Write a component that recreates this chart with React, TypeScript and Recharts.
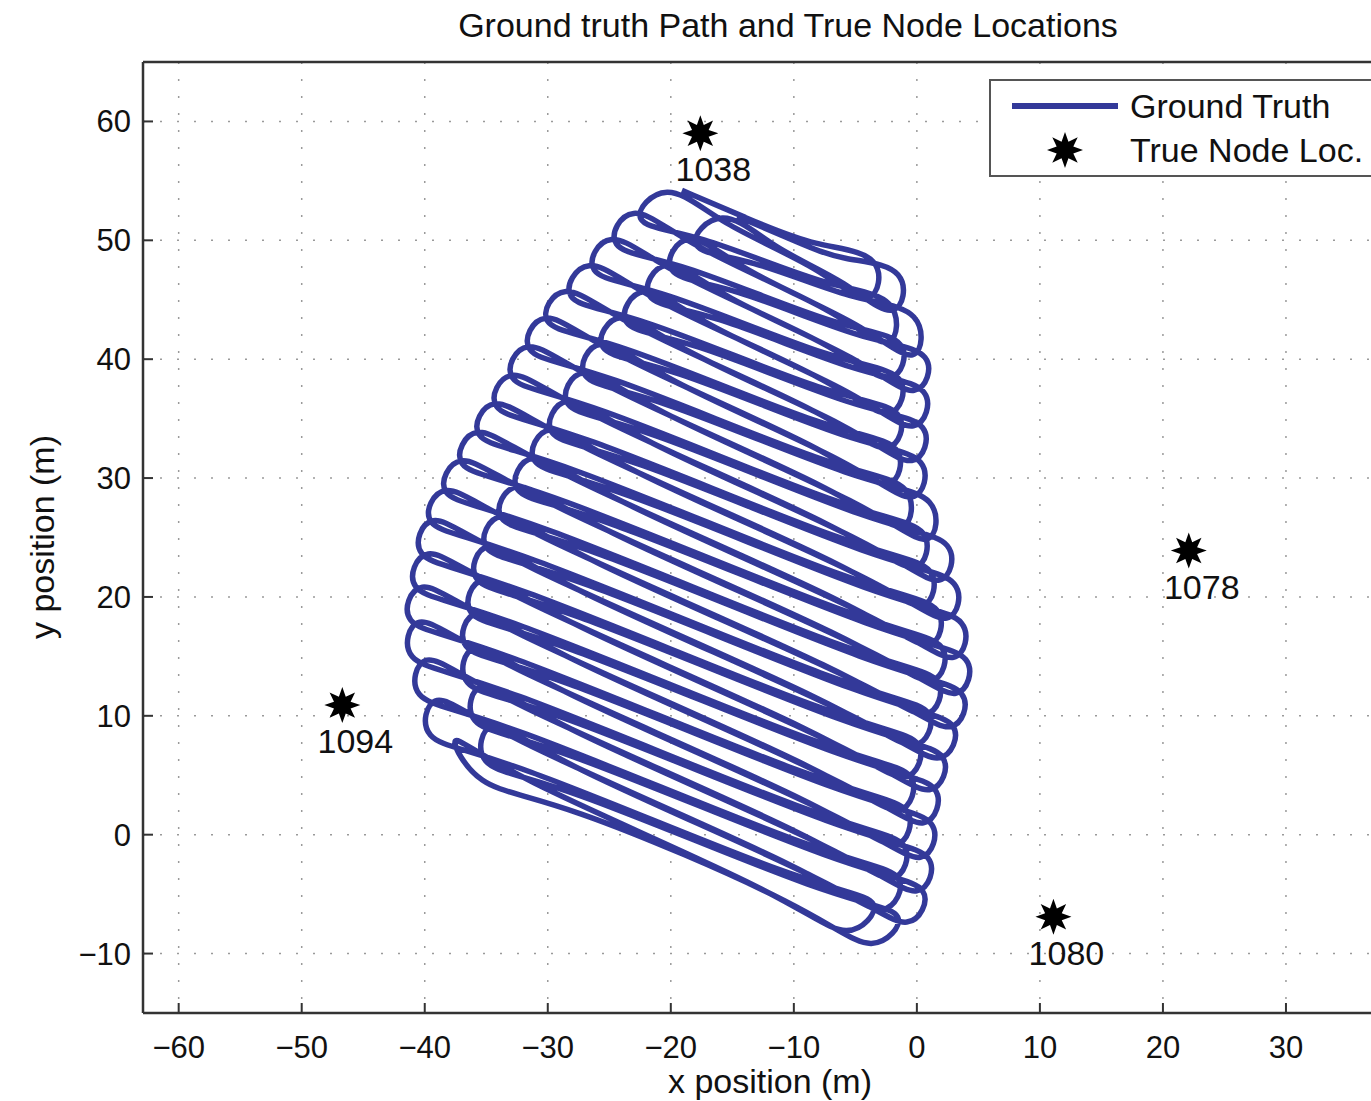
import { ComposedChart, Line, Scatter, XAxis, YAxis, CartesianGrid } from 'recharts';

// lanes of the survey, top to bottom: outer reach of the turning loop on each side
const laneLeftX = [-19.1, -21.2, -23.2, -24.1, -25.0, -25.9, -26.8, -27.7, -28.7, -29.6, -30.6, -31.3, -32.0, -32.7, -33.4, -34.0, -34.7, -35.4, -36.1, -36.8, -37.5, -38.1, -38.8, -39.4, -40.0, -40.5, -40.7, -40.9, -41.2, -41.4, -41.6, -41.7, -41.4, -41.1, -40.8, -40.3, -39.9, -39.5];
const laneLeftY = [54.2, 53.6, 53.0, 51.9, 50.8, 49.7, 48.6, 47.5, 46.4, 45.3, 44.3, 43.1, 41.9, 40.7, 39.5, 38.3, 37.1, 35.9, 34.7, 33.5, 32.3, 31.1, 29.9, 28.6, 27.4, 26.1, 24.7, 23.3, 21.9, 20.5, 19.1, 17.6, 16.0, 14.4, 12.8, 11.0, 9.4, 7.7];
const laneRightX = [-1.2, -0.65, 0.0, 1.1, 1.1, 1.0, 1.0, 0.95, 0.9, 0.8, 0.7, 0.9, 1.3, 2.2, 2.85, 3.1, 3.4, 3.7, 4.0, 4.25, 4.4, 4.4, 4.1, 3.9, 3.4, 2.95, 2.55, 2.2, 1.9, 1.75, 1.6, 1.5, 1.35, 1.2, 1.0, 0.3, -0.8, -2.8];
const laneRightY = [46.3, 44.6, 42.8, 40.8, 39.3, 37.9, 36.4, 34.9, 33.4, 32.0, 30.5, 28.9, 27.2, 25.3, 23.5, 21.9, 20.3, 18.7, 17.0, 15.4, 13.9, 12.4, 11.0, 9.6, 8.3, 7.0, 5.7, 4.3, 3.0, 1.5, 0.1, -1.4, -2.8, -4.2, -5.6, -6.8, -7.9, -8.5];
// the area is mowed twice: once going down, then back up over the same lanes
const sweepDown = [0, 1, 2, 3, 4, 5, 6, 7, 8, 9, 10, 11, 12, 13, 14, 15, 16, 17, 18, 19, 20, 21, 22, 23, 24, 25, 26, 27, 28, 29, 30, 31, 32, 33, 34, 35, 36, 37];
const sweepUp = [37, 36, 35, 34, 33, 32, 31, 30, 29, 28, 27, 26, 25, 24, 23, 22, 21, 20, 19, 18, 17, 16, 15, 14, 13, 12, 11, 10, 9, 8, 7, 6, 5, 4, 3, 2, 1, 0];

const nodeIds = ['1038', '1078', '1094', '1080'];
const nodeX = [-17.6, 22.1, -46.7, 11.1];
const nodeY = [59.0, 23.9, 10.9, -6.9];

const xTicks = [-60, -50, -40, -30, -20, -10, 0, 10, 20, 30];
const yTicks = [-10, 0, 10, 20, 30, 40, 50, 60];

const FONT = '"Liberation Sans", Arial, Helvetica, sans-serif';
const PATH_COLOR = '#333999';
const CAP = 5; // straight run handed over to each turning loop
const BULGE = 2; // how far a loop swells past its lane
const DOWN_RIGHT_INSET = 2; // the two passes turn at slightly different places
const UP_LEFT_INSET = 4.5;
const UP_SHIFT = -0.2;

type P = { x: number; y: number };
type Run = { L: P; R: P };

const along = (a: P, b: P, d: number): P => {
  const f = d / (b.x - a.x);
  return { x: a.x + (b.x - a.x) * f, y: a.y + (b.y - a.y) * f };
};

const runs: Run[] = [
  ...sweepDown.map((k) => {
    const L = { x: laneLeftX[k], y: laneLeftY[k] };
    const R = { x: laneRightX[k], y: laneRightY[k] };
    return { L, R: along(R, L, -DOWN_RIGHT_INSET) };
  }),
  ...sweepUp.map((k) => {
    const L = { x: laneLeftX[k], y: laneLeftY[k] + UP_SHIFT };
    const R = { x: laneRightX[k], y: laneRightY[k] + UP_SHIFT };
    return { L: along(L, R, UP_LEFT_INSET), R };
  }),
];

// control points of one run; its turning ends swell away from the neighbouring run
function runPoints(i: number): P[] {
  const { L, R } = runs[i];
  const goingRight = i % 2 === 0;
  const len = Math.hypot(R.x - L.x, R.y - L.y);
  const n = { x: -(R.y - L.y) / len, y: (R.x - L.x) / len };
  const Li = along(L, R, CAP);
  const Ri = along(R, L, -CAP);
  const swell = (p: P, other: P | undefined) => {
    if (!other) return p;
    const s = p.y > other.y ? BULGE : -BULGE;
    return { x: p.x + n.x * s, y: p.y + n.y * s };
  };
  const prev = runs[i - 1];
  const next = runs[i + 1];
  return goingRight
    ? [swell(L, prev?.L), Li, Ri, swell(R, next?.R)]
    : [swell(R, prev?.R), Ri, Li, swell(L, next?.L)];
}

const pathData = runs.flatMap((_, i) => runPoints(i));
const nodeData = nodeIds.map((id, i) => ({ id, x: nodeX[i], y: nodeY[i] }));

const fmt = (v: number) => String(v).replace('-', '\u2212');

function Star({ cx, cy, r = 18 }: { cx: number; cy: number; r?: number }) {
  const pts: string[] = [];
  for (let i = 0; i < 16; i++) {
    const a = (Math.PI * i) / 8 - Math.PI / 2;
    const rr = i % 2 === 0 ? r : r * 0.5;
    pts.push(`${cx + rr * Math.cos(a)},${cy + rr * Math.sin(a)}`);
  }
  return <polygon points={pts.join(' ')} fill="#000" />;
}

function NodeShape(props: any) {
  const { cx, cy, payload } = props;
  return (
    <g>
      <Star cx={cx} cy={cy} />
      <text x={cx + 13} y={cy + 48} textAnchor="middle" fontSize={34} fontFamily={FONT} fill="#111">
        {payload.id}
      </text>
    </g>
  );
}

export default function App() {
  return (
    <div style={{ position: 'absolute', left: 0, top: 0, width: 1371, height: 1101, overflow: 'hidden', background: '#fff' }}>
      <ComposedChart width={1410} height={1101} margin={{ top: 61, right: 1, bottom: 0, left: 0 }}>
        <CartesianGrid stroke="#9a9a9a" strokeWidth={1.5} strokeDasharray="2 15" />
        <XAxis
          type="number"
          dataKey="x"
          domain={[-62.9, 40]}
          ticks={xTicks}
          allowDataOverflow
          height={88}
          tickFormatter={fmt}
          tickSize={-10}
          tickMargin={33}
          axisLine={{ stroke: '#333', strokeWidth: 2.5 }}
          tickLine={{ stroke: '#333', strokeWidth: 2 }}
          tick={{ fontSize: 31, fill: '#111', fontFamily: FONT }}
        />
        <XAxis
          xAxisId="top"
          orientation="top"
          type="number"
          dataKey="x"
          domain={[-62.9, 40]}
          ticks={xTicks}
          allowDataOverflow
          height={1}
          tick={false}
          tickSize={-10}
          axisLine={{ stroke: '#333', strokeWidth: 2.5 }}
          tickLine={{ stroke: '#333', strokeWidth: 2 }}
        />
        <YAxis
          type="number"
          dataKey="y"
          domain={[-15, 65]}
          ticks={yTicks}
          allowDataOverflow
          width={143}
          tickFormatter={fmt}
          tickSize={-10}
          tickMargin={22}
          axisLine={{ stroke: '#333', strokeWidth: 2.5 }}
          tickLine={{ stroke: '#333', strokeWidth: 2 }}
          tick={{ fontSize: 31, fill: '#111', fontFamily: FONT }}
        />
        <Line
          data={pathData}
          dataKey="y"
          type="basis"
          stroke={PATH_COLOR}
          strokeWidth={5.5}
          dot={false}
          activeDot={false}
          isAnimationActive={false}
        />
        <Scatter data={nodeData} dataKey="y" shape={NodeShape} isAnimationActive={false} />
      </ComposedChart>
      <svg width={1371} height={1101} style={{ position: 'absolute', left: 0, top: 0, pointerEvents: 'none' }}>
        <text x={788} y={37} textAnchor="middle" fontSize={34} fontFamily={FONT} fill="#111">
          Ground truth Path and True Node Locations
        </text>
        <text x={770} y={1093} textAnchor="middle" fontSize={34} fontFamily={FONT} fill="#111">
          x position (m)
        </text>
        <text x={54} y={537} textAnchor="middle" fontSize={34} fontFamily={FONT} fill="#111" transform="rotate(-90 54 537)">
          y position (m)
        </text>
        <rect x={990} y={80} width={420} height={96} fill="#fff" stroke="#555" strokeWidth={2} />
        <line x1={1012} y1={106} x2={1118} y2={106} stroke={PATH_COLOR} strokeWidth={6} />
        <text x={1130} y={118} fontSize={34} fontFamily={FONT} fill="#111">Ground Truth</text>
        <Star cx={1065} cy={150} />
        <text x={1130} y={162} fontSize={34} fontFamily={FONT} fill="#111">True Node Loc.</text>
      </svg>
    </div>
  );
}
